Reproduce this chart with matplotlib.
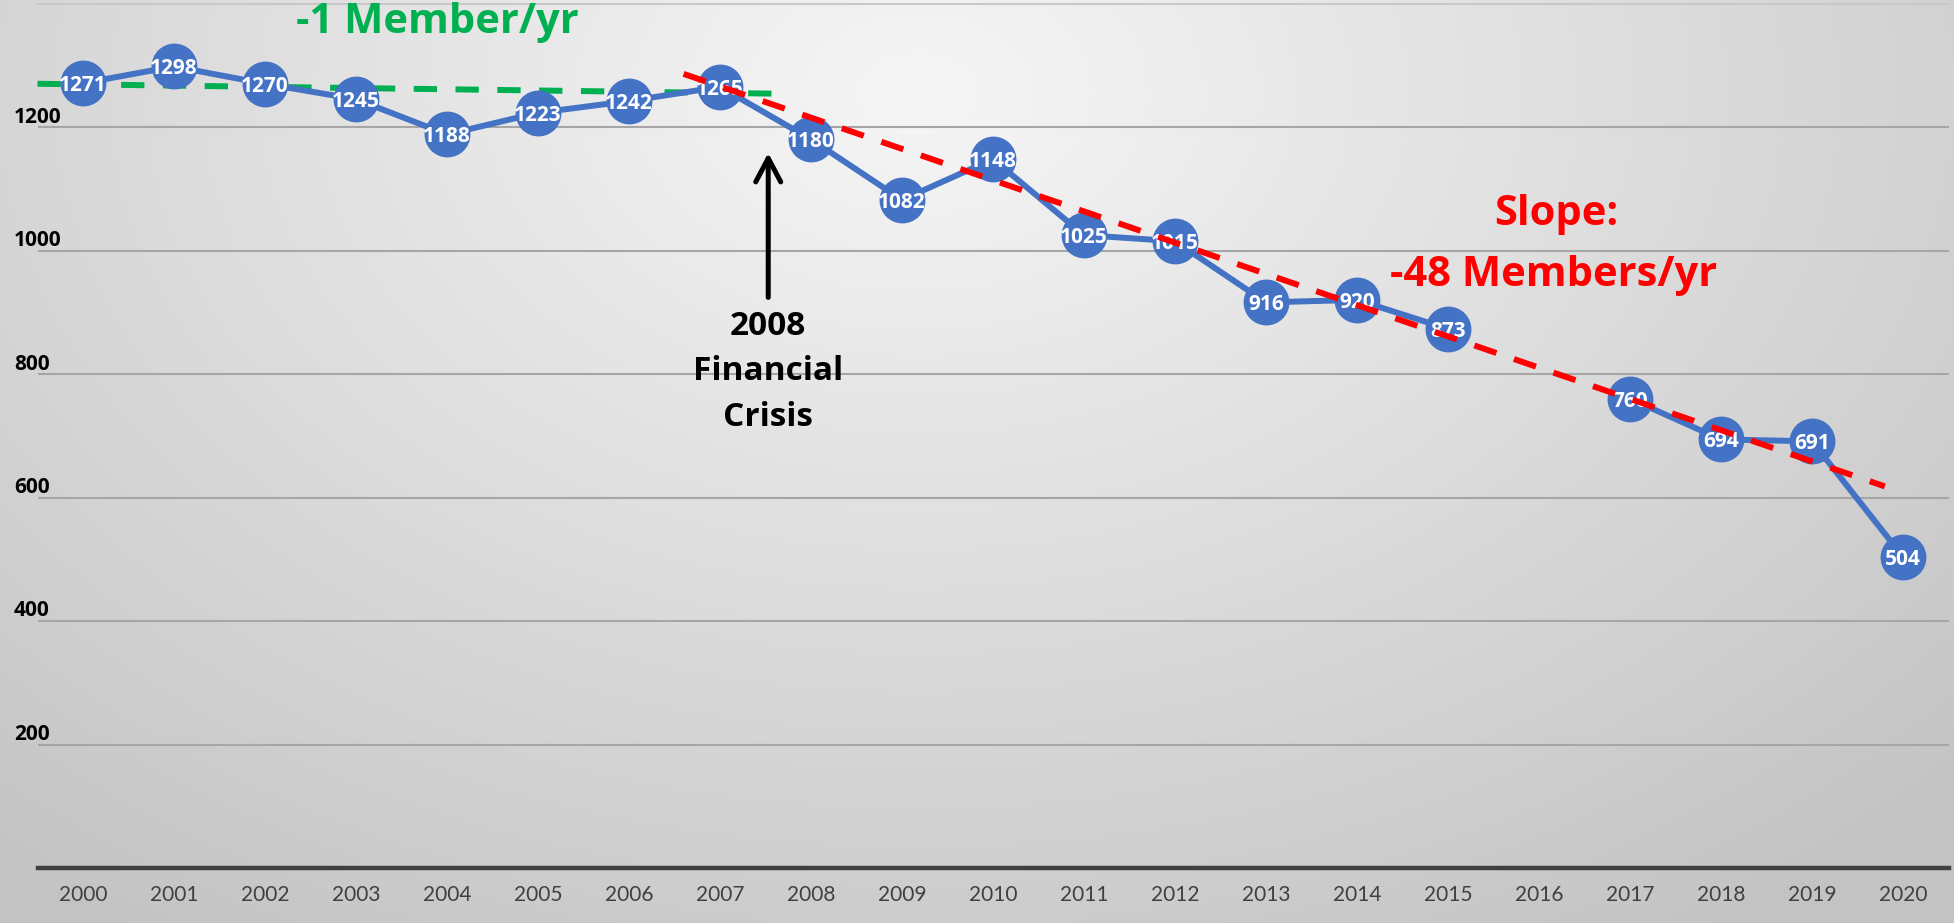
import numpy as np
import matplotlib
matplotlib.use('Agg')
import matplotlib.pyplot as plt
from matplotlib.transforms import ScaledTranslation

# ---------------- data ----------------
years = list(range(2000, 2021))
members = [1271, 1298, 1270, 1245, 1188, 1223, 1242, 1265, 1180, 1082, 1148,
           1025, 1015, 916, 920, 873, np.nan, 760, 694, 691, 504]
x_labels = [str(y) for y in years]
y_ticks = [200, 400, 600, 800, 1000, 1200]
y_tick_labels = [str(t) for t in y_ticks]
grid_top = 1400

# trend lines
green_trend_x = [1999.5, 2007.6]
green_trend_y = [1270, 1254]
red_trend_x = [2006.6, 2019.8]
red_trend_y = [1286, 618]

green_label = '-1 Member/yr'
red_label_1 = 'Slope:'
red_label_2 = '-48 Members/yr'
crisis_label = '2008\nFinancial\nCrisis'

# ---------------- style ----------------
plt.rcParams['font.family'] = ['Lato', 'DejaVu Sans']
BIG = ['Open Sans', 'DejaVu Sans']
BLUE = '#4472C4'
GREEN = '#00B050'
RED = '#FF0000'

W, H = 1954, 923
fig = plt.figure(figsize=(W / 100, H / 100), dpi=100)

# background gradient
bg = fig.add_axes([0, 0, 1, 1], zorder=0)
gx, gy = np.meshgrid(np.linspace(0, 1, 400), np.linspace(0, 1, 200))
r = np.sqrt(((gx - 0.47) / 0.75) ** 2 + ((gy - 0.9) / 1.1) ** 2)
v = 0.965 - 0.2 * np.clip(r, 0, 1)
bg.imshow(np.dstack([v, v, v]), extent=[0, 1, 0, 1], origin='lower',
          aspect='auto', interpolation='bilinear')
bg.set_axis_off()

# main axes
left, right = 37.5, 1948.5
y0_px, ytop_px = 868, 3.5
ax = fig.add_axes([left / W, (H - y0_px) / H, (right - left) / W,
                   (y0_px - ytop_px) / H], zorder=1)
ax.patch.set_alpha(0)
ax.set_xlim(1999.5, 2020.5)
ax.set_ylim(0, grid_top)
for s in ax.spines.values():
    s.set_visible(False)

# grid
ax.set_yticks(y_ticks, y_tick_labels)
ax.yaxis.grid(True, color='#a6a6a6', lw=1.5)
ax.set_axisbelow(True)
ax.axhline(grid_top, color='#c8c8c8', lw=1.5, clip_on=False, zorder=0.5)
ax.axhline(0, color='#404040', lw=3.2, clip_on=False, zorder=1)

# ticks
ax.set_xticks(years, x_labels)
ax.tick_params(axis='x', length=0, pad=12, labelsize=15, labelcolor='#404040')
ax.tick_params(axis='y', length=0, pad=17, labelsize=15, labelcolor='black')
off = ScaledTranslation(0, 4.5 / 100, fig.dpi_scale_trans)
for lab in ax.get_yticklabels():
    lab.set_family(BIG)
    lab.set_fontweight('bold')
    lab.set_ha('left')
    lab.set_va('baseline')
    lab.set_transform(lab.get_transform() + off)

# trend lines
ax.plot(green_trend_x, green_trend_y, color=GREEN, lw=4.3, dashes=(3.9, 3.1),
        dash_capstyle='butt', zorder=2.5, clip_on=False)
ax.plot(red_trend_x, red_trend_y, color=RED, lw=4.3, dashes=(3.9, 3.1),
        dash_capstyle='butt', zorder=6, clip_on=False)

# main series
ax.plot(years, members, color=BLUE, lw=4.3, marker='o', ms=32,
        mfc=BLUE, mec=BLUE, zorder=3, clip_on=False)
for x, val in zip(years, members):
    if not np.isnan(val):
        ax.text(x, val, f'{int(val)}', ha='center', va='center_baseline',
                color='white', fontsize=15, fontweight='bold', zorder=5,
                family=BIG)

# annotations
ax.text(2003.89, 1377, green_label, color=GREEN, fontsize=30, family=BIG,
        fontweight='bold', ha='center', va='center_baseline')
ax.text(2016.19, 1066, red_label_1, color=RED, fontsize=30, family=BIG,
        fontweight='bold', ha='center', va='center_baseline')
ax.text(2016.16, 968, red_label_2, color=RED, fontsize=30, family=BIG,
        fontweight='bold', ha='center', va='center_baseline')

ax.annotate('', xy=(2007.53, 1158), xytext=(2007.53, 924),
            arrowprops=dict(arrowstyle='->,head_length=17,head_width=9',
                            mutation_scale=1, lw=3.6, color='black',
                            shrinkA=0, shrinkB=0))
ax.text(2007.53, 804, crisis_label, ha='center', va='center', fontsize=24,
        family=BIG, fontweight='bold', color='black', linespacing=1.5)

fig.savefig('out.png', dpi=100)
